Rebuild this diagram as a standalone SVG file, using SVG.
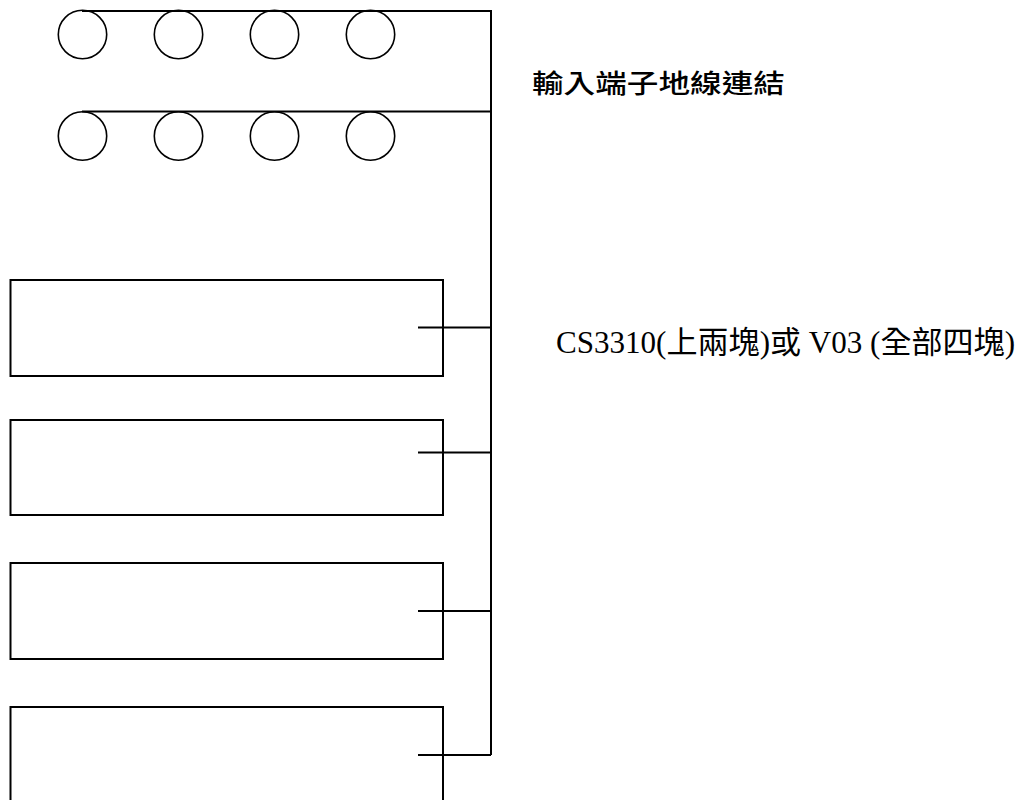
<svg xmlns="http://www.w3.org/2000/svg" width="1022" height="800" viewBox="0 0 1022 800">
<style>
.c{fill:none;stroke:#000;stroke-width:1.6}
.b{fill:none;stroke:#000;stroke-width:2}
.w{fill:none;stroke:#000;stroke-width:2}
.t1{font-family:"Noto Sans CJK TC","Noto Sans CJK SC",sans-serif;font-size:26px;font-weight:500;fill:#000}
.t2{font-family:"Liberation Serif","Noto Sans CJK TC",serif;font-size:31px;fill:#000}
</style>
<rect width="1022" height="800" fill="#fff"/>
<g id="connectors">
<path class="w" d="M82,11H491V755"/>
<path class="w" d="M82,111.5H491"/>
<path class="w" d="M418,327.5H491"/>
<path class="w" d="M418,452.5H491"/>
<path class="w" d="M418,611H491"/>
<path class="w" d="M418,755H491"/>
</g>
<g id="terminals-row1">
<circle id="t1" class="c" cx="82.5" cy="34.5" r="24.2"/>
<circle id="t2" class="c" cx="178.5" cy="34.5" r="24.2"/>
<circle id="t3" class="c" cx="274.5" cy="34.5" r="24.2"/>
<circle id="t4" class="c" cx="370.5" cy="34.5" r="24.2"/>
</g>
<g id="terminals-row2">
<circle id="t5" class="c" cx="82.5" cy="136" r="24.2"/>
<circle id="t6" class="c" cx="178.5" cy="136" r="24.2"/>
<circle id="t7" class="c" cx="274.5" cy="136" r="24.2"/>
<circle id="t8" class="c" cx="370.5" cy="136" r="24.2"/>
</g>
<g id="board1"><rect class="b" x="10.5" y="280" width="432.5" height="96"/></g>
<g id="board2"><rect class="b" x="10.5" y="420" width="432.5" height="95"/></g>
<g id="board3"><rect class="b" x="10.5" y="563" width="432.5" height="96"/></g>
<g id="board4"><rect class="b" x="10.5" y="707" width="432.5" height="96"/></g>
<g id="label-ground"><text class="t1" x="532" y="93" textLength="253" lengthAdjust="spacingAndGlyphs">輸入端子地線連結</text></g>
<g id="label-boards"><text class="t2" x="556" y="353" textLength="459" lengthAdjust="spacingAndGlyphs">CS3310(上兩塊)或 V03 (全部四塊)</text></g>
</svg>
